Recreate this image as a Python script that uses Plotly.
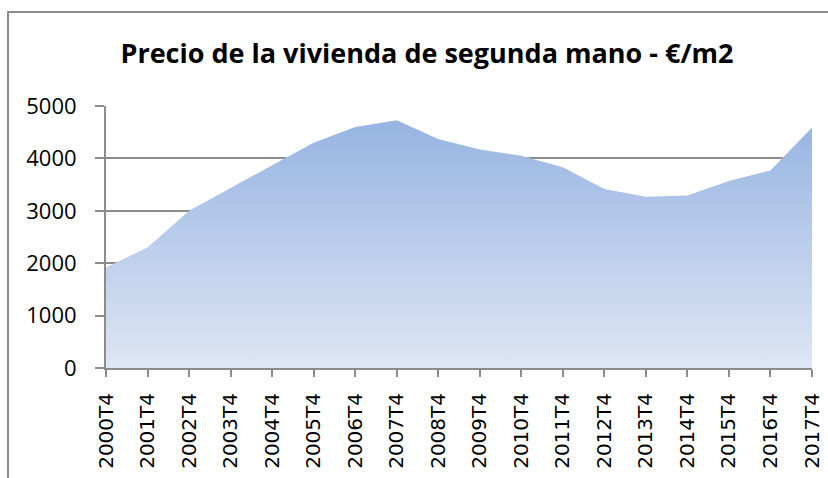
import plotly.graph_objects as go

categories = ["2000T4", "2001T4", "2002T4", "2003T4", "2004T4", "2005T4",
              "2006T4", "2007T4", "2008T4", "2009T4", "2010T4", "2011T4",
              "2012T4", "2013T4", "2014T4", "2015T4", "2016T4", "2017T4"]
precio = [1920, 2300, 3000, 3440, 3870, 4300, 4600, 4730, 4370,
          4170, 4050, 3830, 3415, 3270, 3290, 3570, 3770, 4590]
y_ticks = [0, 1000, 2000, 3000, 4000, 5000]
title_text = "Precio de la vivienda de segunda mano - €/m2"

GRID = "#8c8c8c"

fig = go.Figure()
fig.add_trace(go.Scatter(
    x=categories, y=precio, mode="lines",
    line=dict(width=0, color="#9bb7e3"),
    fill="tozeroy",
    fillgradient=dict(type="vertical",
                      colorscale=[[0, "#dee6f4"], [1, "#97b4e2"]]),
    hoverinfo="x+y", showlegend=False,
))

fig.update_layout(
    width=828, height=478,
    margin=dict(l=106, r=16, t=106, b=110, autoexpand=False),
    paper_bgcolor="white", plot_bgcolor="white",
    title=dict(text=title_text, x=0.5157, xref="container", xanchor="center",
               y=0.887, yref="container", yanchor="middle",
               font=dict(family="Open Sans", size=27, color="black", weight="bold")),
    xaxis=dict(type="category", range=[0, 17], showgrid=False,
               showline=True, linecolor=GRID, linewidth=2,
               ticks="outside", ticklen=7, tickcolor=GRID, tickwidth=2,
               tickangle=-90, ticklabelstandoff=8, automargin=False,
               tickfont=dict(family="DejaVu Sans", size=20, color="black"),
               fixedrange=True),
    yaxis=dict(range=[0, 5000], tickvals=y_ticks,
               showgrid=True, gridcolor=GRID, gridwidth=1.5,
               showline=True, linecolor=GRID, linewidth=2,
               ticks="outside", ticklen=9, tickcolor=GRID, tickwidth=2,
               ticklabelstandoff=14, zeroline=False, automargin=False,
               tickfont=dict(family="Open Sans", size=22, color="black"),
               fixedrange=True),
    shapes=[dict(type="rect", xref="paper", yref="paper",
                 x0=-0.1388, x1=1.1, y0=-0.6, y1=1.3588,
                 line=dict(color=GRID, width=2), fillcolor="rgba(0,0,0,0)",
                 layer="below")],
)

fig.write_html("out.html", config={"displayModeBar": False},
               post_script="document.body.style.margin='0px';")
